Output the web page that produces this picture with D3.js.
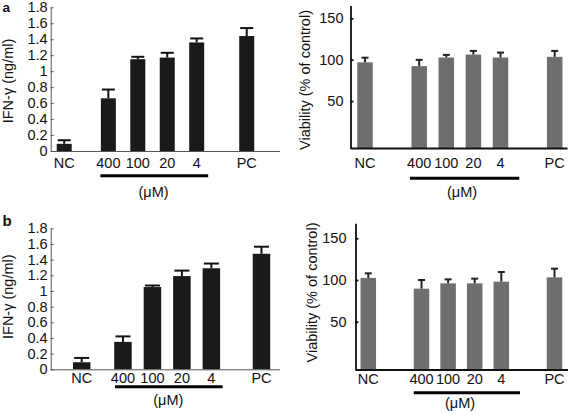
<!DOCTYPE html>
<html>
<head>
<meta charset="utf-8">
<script src="https://cdn.jsdelivr.net/npm/d3@7"></script>
<style>
  html, body { margin: 0; padding: 0; background: #fff; }
  svg text { font-family: "Liberation Sans", Arial, Helvetica, sans-serif; fill: #111; }
</style>
</head>
<body>
<svg id="chart" width="571" height="414"></svg>
<script>
// ---------------- data ----------------
const categories = ["NC", "400", "100", "20", "4", "PC"];
const unitLabel = "(\u03bcM)";

// panel a
const ifnA      = [0.09, 0.66, 1.15, 1.17, 1.36, 1.44];
const ifnAErr   = [0.045, 0.11, 0.03, 0.06, 0.05, 0.10];
const viabA     = [96.8, 92.2, 102.6, 106.2, 102.6, 103.4];
const viabAErr  = [5.6, 7.6, 3.2, 4.4, 6.0, 7.2];
// panel b
const ifnB      = [0.09, 0.35, 1.05, 1.19, 1.29, 1.475];
const ifnBErr   = [0.055, 0.07, 0.02, 0.07, 0.06, 0.09];
const viabB     = [102.5, 89.6, 96.0, 96.0, 98.0, 103.2];
const viabBErr  = [5.5, 10.4, 4.8, 5.6, 11.6, 10.4];

const ifnTicks  = [0, 0.2, 0.4, 0.6, 0.8, 1, 1.2, 1.4, 1.6, 1.8];
const viabTicks = [50, 100, 150];

const ifnTitle  = "IFN-\u03b3 (ng/ml)";
const viabTitle = "Viability (% of control)";

// ---------------- layout ----------------
const svg = d3.select("#chart");
const FS = 14.5;

const panels = [
  { letter: "a", letterX: 2.5, letterY: 12, letterFS: 13.5,
    values: ifnA, errs: ifnAErr, ticks: ifnTicks, title: ifnTitle,
    dom: [0, 1.8], axisX: 50.7, xEnd: 280, yBase: 151, yTop: 7.3,
    slots: [0, 1.5, 2.5, 3.5, 4.5, 6.2], x0: 64.2, step: 29.44, bw: 15, capW: 13,
    barColor: "#1a1a1a", errColor: "#111", axisColor: "#555", axisW: 1, tickPad: 3,
    labelY: 167.7, lineY: 175.7, linePadL: 0.5, linePadR: 4, unitX: 153.5, unitY: 197,
    titleX: 7.5, titleY: 81 },
  { letter: null,
    values: viabA, errs: viabAErr, ticks: viabTicks, title: viabTitle,
    dom: [-6.8, 165.5], axisX: 350.5, xEnd: 567.5, yBase: 148, yTop: 5.5,
    slots: [0, 2, 3, 4, 5, 7], x0: 365, step: 27.1, bw: 15.5, capW: 7,
    barColor: "#6e6e6e", errColor: "#222", axisColor: "#111", axisW: 1.8, tickPad: 7,
    labelY: 168.3, lineY: 178.3, linePadL: 1.5, linePadR: 11, unitX: 462, unitY: 197,
    titleX: 305.3, titleY: 80 },
  { letter: "b", letterX: 2.5, letterY: 225.7, letterFS: 15,
    values: ifnB, errs: ifnBErr, ticks: ifnTicks, title: ifnTitle,
    dom: [0, 1.8], axisX: 50.7, xEnd: 280, yBase: 369.3, yTop: 228.3,
    slots: [0, 1.4, 2.4, 3.4, 4.4, 6.1], x0: 81.7, step: 29.47, bw: 17.5, capW: 15,
    barColor: "#1a1a1a", errColor: "#111", axisColor: "#555", axisW: 1, tickPad: 3,
    labelY: 382.5, lineY: 386.7, linePadL: -0.8, linePadR: 2.5, unitX: 168.3, unitY: 405,
    titleX: 8, titleY: 296.7 },
  { letter: null,
    values: viabB, errs: viabBErr, ticks: viabTicks, title: viabTitle,
    dom: [-7.3, 168], axisX: 355.5, xEnd: 568, yBase: 369.5, yTop: 223.3,
    slots: [0, 2, 3, 4, 5, 7], x0: 368.3, step: 26.6, bw: 15.5, capW: 7,
    barColor: "#6e6e6e", errColor: "#222", axisColor: "#111", axisW: 1.8, tickPad: 9,
    labelY: 383.5, lineY: 392.7, linePadL: 0, linePadR: 11, unitX: 460, unitY: 408,
    titleX: 311.5, titleY: 292.5 }
];

panels.forEach(p => {
  const g = svg.append("g");

  // scales
  const y = d3.scaleLinear().domain(p.dom).range([p.yBase, p.yTop]);
  const slotScale = d3.scaleLinear().domain([0, 1]).range([p.x0, p.x0 + p.step]);
  const xc = i => slotScale(p.slots[i]);

  const rows = categories.map((c, i) => ({ c, i, v: p.values[i], e: p.errs[i] }));

  // bars
  g.selectAll("rect.bar").data(rows).join("rect")
    .attr("class", "bar")
    .attr("x", d => xc(d.i) - p.bw / 2)
    .attr("width", p.bw)
    .attr("y", d => y(d.v))
    .attr("height", d => p.yBase - y(d.v))
    .attr("fill", p.barColor);

  // error bars (upper only)
  g.selectAll("line.err").data(rows).join("line")
    .attr("class", "err")
    .attr("x1", d => xc(d.i)).attr("x2", d => xc(d.i))
    .attr("y1", d => y(d.v)).attr("y2", d => y(d.v + d.e))
    .attr("stroke", p.errColor).attr("stroke-width", 2);
  g.selectAll("line.cap").data(rows).join("line")
    .attr("class", "cap")
    .attr("x1", d => xc(d.i) - p.capW / 2).attr("x2", d => xc(d.i) + p.capW / 2)
    .attr("y1", d => y(d.v + d.e)).attr("y2", d => y(d.v + d.e))
    .attr("stroke", p.errColor).attr("stroke-width", 2);

  // y axis
  const ax = g.append("g")
    .attr("transform", `translate(${p.axisX},0)`)
    .call(d3.axisLeft(y).tickValues(p.ticks).tickFormat(d3.format("~g"))
      .tickSizeInner(-3).tickSizeOuter(0).tickPadding(p.tickPad));
  ax.select(".domain").attr("stroke", p.axisColor).attr("stroke-width", p.axisW);
  ax.selectAll(".tick line").attr("stroke", p.axisColor).attr("stroke-width", p.axisW);
  ax.selectAll(".tick text").attr("font-size", FS).attr("fill", "#111")
    .attr("font-family", "'Liberation Sans', Arial, sans-serif");

  // x axis line
  g.append("line")
    .attr("x1", p.axisX).attr("x2", p.xEnd)
    .attr("y1", p.yBase + 0.5).attr("y2", p.yBase + 0.5)
    .attr("stroke", p.axisColor).attr("stroke-width", p.axisW);

  // category labels
  g.selectAll("text.cat").data(rows).join("text")
    .attr("class", "cat")
    .attr("x", d => xc(d.i)).attr("y", p.labelY)
    .attr("text-anchor", "middle").attr("font-size", FS)
    .text(d => d.c);

  // concentration underline
  g.append("line")
    .attr("x1", xc(1) - p.bw / 2 - p.linePadL)
    .attr("x2", xc(4) + p.bw / 2 + p.linePadR)
    .attr("y1", p.lineY).attr("y2", p.lineY)
    .attr("stroke", "#000").attr("stroke-width", 3);

  g.append("text")
    .attr("x", p.unitX).attr("y", p.unitY)
    .attr("text-anchor", "middle").attr("font-size", FS)
    .text(unitLabel);

  // y title
  g.append("text")
    .attr("transform", `translate(${p.titleX},${p.titleY}) rotate(-90)`)
    .attr("text-anchor", "middle").attr("dy", "0.35em").attr("font-size", FS)
    .text(p.title);

  if (p.letter) {
    g.append("text")
      .attr("x", p.letterX).attr("y", p.letterY)
      .attr("font-size", p.letterFS).attr("font-weight", "bold")
      .text(p.letter);
  }
});
</script>
</body>
</html>
